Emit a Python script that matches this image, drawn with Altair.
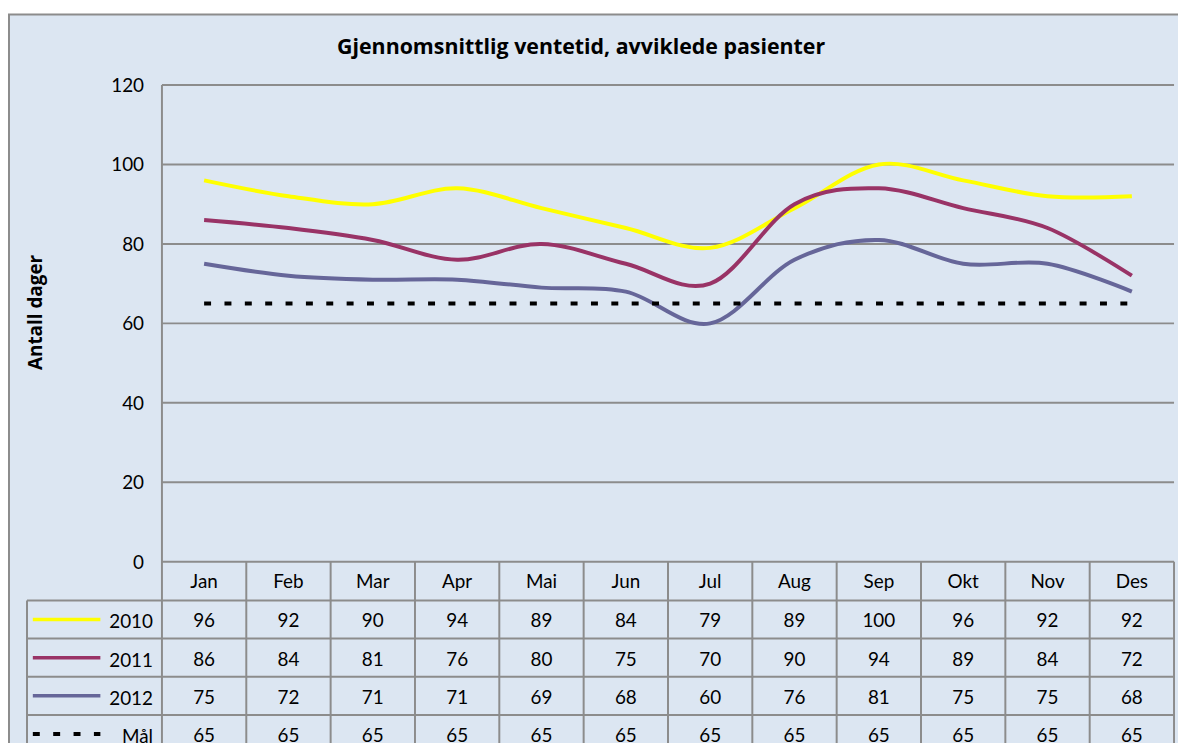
import altair as alt
import pandas as pd

# ---------------- data ----------------
months = ["Jan", "Feb", "Mar", "Apr", "Mai", "Jun", "Jul", "Aug", "Sep", "Okt", "Nov", "Des"]
series_names = ["2010", "2011", "2012", "Mål"]
values_2010 = [96, 92, 90, 94, 89, 84, 79, 89, 100, 96, 92, 92]
values_2011 = [86, 84, 81, 76, 80, 75, 70, 90, 94, 89, 84, 72]
values_2012 = [75, 72, 71, 71, 69, 68, 60, 76, 81, 75, 75, 68]
values_maal = [65, 65, 65, 65, 65, 65, 65, 65, 65, 65, 65, 65]
y_ticks = [0, 20, 40, 60, 80, 100, 120]
title_text = "Gjennomsnittlig ventetid, avviklede pasienter"
y_title = "Antall dager"

# ---------------- styles / layout ----------------
FONT = "Lato"
TITLE_FONT = "Open Sans"
BG = "#dce6f2"
GRID = "#8c8c8c"
line_series = ["2010", "2011", "2012"]
line_colors = ["#ffff00", "#993366", "#666699"]

PLOT_W, PLOT_H = 1019, 480
HEADER_H = 9.75      # table header row height (y units)
ROW_H = 9.6          # table row height (y units)
LEGEND_X = -1.6      # left edge of the table legend column (x units)
TABLE_BOTTOM = -60   # beyond visible area
Y_TOP = 120

series_values = [values_2010, values_2011, values_2012, values_maal]
recs = []
for r, (name, vals) in enumerate(zip(series_names, series_values)):
    for i, (m, v) in enumerate(zip(months, vals)):
        recs.append(dict(series=name, row=r, mi=i, month=m, value=v))
df = pd.DataFrame(recs)
df["xc"] = df["mi"] + 0.5
df["ty"] = -(HEADER_H + (df["row"] + 0.5) * ROW_H)

df_rows = pd.DataFrame({"series": series_names, "row": range(len(series_names))})
df_rows["ty"] = -(HEADER_H + (df_rows["row"] + 0.5) * ROW_H)

df_months = pd.DataFrame({"month": months, "mi": range(12)})
df_months["xc"] = df_months["mi"] + 0.5
df_months["ty"] = -HEADER_H / 2

# horizontal lines: plot gridlines + table row lines
df_grid = pd.DataFrame({"y": y_ticks, "xa": 0, "xb": 12})
df_tab_h = pd.DataFrame({"y": [-(HEADER_H + k * ROW_H) for k in range(len(series_names) + 1)]})
df_tab_h["xa"] = LEGEND_X
df_tab_h["xb"] = 12
df_h = pd.concat([df_grid, df_tab_h], ignore_index=True)

# vertical lines: axis line + table column lines
df_v = pd.DataFrame({"x": [0] + list(range(1, 13)) + [LEGEND_X],
                     "ya": [Y_TOP] + [0] * 12 + [-HEADER_H]})
df_v["yb"] = TABLE_BOTTOM

df_ticks = pd.DataFrame({"v": y_ticks})
one = pd.DataFrame({"t": [title_text], "yt": [y_title]})

xs = alt.Scale(domain=[0, 12], nice=False, zero=False)
ys = alt.Scale(domain=[0, 120], nice=False, zero=False)
cs = alt.Scale(domain=line_series, range=line_colors)

X = lambda f: alt.X(f, scale=xs, axis=None)
Y = lambda f: alt.Y(f, scale=ys, axis=None)

background = alt.Chart(one).mark_rect(fill=BG, stroke=GRID, strokeWidth=2).encode(
    x=alt.value(-154), x2=alt.value(1300), y=alt.value(-71), y2=alt.value(900)
)

hrules = alt.Chart(df_h).mark_rule(color=GRID, strokeWidth=2).encode(
    x=X("xa:Q"), x2="xb:Q", y=Y("y:Q"),
)
vrules = alt.Chart(df_v).mark_rule(color=GRID, strokeWidth=2).encode(
    x=X("x:Q"), y=Y("ya:Q"), y2="yb:Q",
)

tick_labels = alt.Chart(df_ticks).mark_text(
    font=FONT, fontSize=19, color="black", align="right", baseline="middle", dy=1
).encode(
    x=alt.value(-18), y=Y("v:Q"), text=alt.Text("v:Q", format="d"),
)

axis_title = alt.Chart(one).mark_text(
    font=TITLE_FONT, fontSize=19, fontWeight="bold", color="black", angle=270,
    align="center", baseline="middle"
).encode(
    x=alt.value(-127), y=alt.value(229), text="yt:N"
)

lines = alt.Chart(df[df.series.isin(line_series)]).mark_line(
    interpolate="cardinal", strokeWidth=4
).encode(
    x=X("xc:Q"), y=Y("value:Q"),
    color=alt.Color("series:N", scale=cs, legend=None),
)

maal = alt.Chart(df[df.series == "Mål"]).mark_line(
    strokeWidth=4, strokeDash=[7, 13.5], color="black"
).encode(
    x=X("xc:Q"), y=Y("value:Q"),
)

header_text = alt.Chart(df_months).mark_text(
    font=FONT, fontSize=19, color="black", baseline="middle", dy=1
).encode(
    x=X("xc:Q"), y=Y("ty:Q"), text="month:N",
)

cell_text = alt.Chart(df).mark_text(
    font=FONT, fontSize=19, color="black", baseline="middle", dy=2
).encode(
    x=X("xc:Q"), y=Y("ty:Q"), text=alt.Text("value:Q", format="d"),
)

row_labels = alt.Chart(df_rows).mark_text(
    font=FONT, fontSize=19, color="black", baseline="middle", align="right", dy=3
).encode(
    x=alt.value(-9), y=Y("ty:Q"), text="series:N",
)

swatches = alt.Chart(df_rows[df_rows.series.isin(line_series)]).mark_rule(strokeWidth=3.5).encode(
    x=alt.value(-130), x2=alt.value(-62), y=Y("ty:Q"),
    color=alt.Color("series:N", scale=cs, legend=None),
)
maal_swatch = alt.Chart(df_rows[df_rows.series == "Mål"]).mark_rule(
    strokeWidth=4, strokeDash=[7, 13.5], color="black"
).encode(
    x=alt.value(-130), x2=alt.value(-62), y=Y("ty:Q"),
)

title = alt.Chart(one).mark_text(
    font=TITLE_FONT, fontSize=21.5, fontWeight="bold", color="black", align="center",
    baseline="alphabetic"
).encode(
    x=alt.value(422), y=alt.value(-31), text="t:N"
)

chart = alt.layer(
    background, hrules, vrules, tick_labels, axis_title, lines, maal,
    header_text, cell_text, row_labels, swatches, maal_swatch, title
).properties(
    width=PLOT_W, height=PLOT_H,
    padding={"left": 155, "top": 75, "right": 4, "bottom": 185},
    autosize=alt.AutoSizeParams(type="none"),
).configure(background="white").configure_view(stroke="transparent")

chart.save("out.html", embed_options={"renderer": "svg", "actions": False})
